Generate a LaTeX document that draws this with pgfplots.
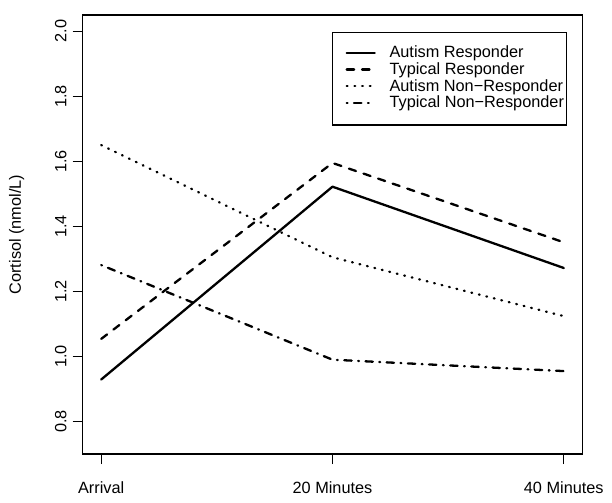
\documentclass[border=0pt]{standalone}
\usepackage{fontspec}
\setmainfont{Liberation Sans}
\usepackage{pgfplots}
\pgfplotsset{compat=1.18}
\begin{document}
\begin{tikzpicture}[font=\fontsize{16.3bp}{19bp}\selectfont]
\begin{axis}[
  at={(0,0)}, anchor=south west,
  scale only axis, width=499.6bp, height=439bp,
  xmin=0.92, xmax=3.08, ymin=0.70, ymax=2.05,
  xtick={1,2,3}, xticklabels={Arrival,20 Minutes,40 Minutes},
  ytick={0.8,1.0,1.2,1.4,1.6,1.8,2.0},
  yticklabels={0.8,1.0,1.2,1.4,1.6,1.8,2.0},
  xtick pos=bottom, ytick pos=left,
  tick align=outside, major tick length=10bp,
  axis line style={line width=1.1bp, black},
  tick style={line width=1.1bp, black},
  xticklabel style={anchor=base, inner sep=0pt},
  xticklabel shift=29bp,
  yticklabel style={rotate=90, anchor=south, inner sep=0pt},
  yticklabel shift=6bp,
  ylabel={Cortisol (nmol/L)},
  ylabel style={at={([xshift=-61.7bp]axis description cs:0,0.5)}, rotate=0, anchor=base, inner sep=0pt},
  legend style={at={(axis description cs:0.4996,0.962)}, anchor=north west,
    draw=black, line width=1.1bp, inner xsep=12.7bp, inner ysep=13bp,
    column sep=13.7bp, row sep=0pt,
    nodes={inner sep=0pt, anchor=base west, text height=12.4bp, text depth=4.3bp}},
  legend image code/.code={\draw[#1] (0bp,4.85bp) -- (28bp,4.85bp);},
  every axis plot/.append style={line width=2.3bp, black, line cap=round, line join=round},
]
\addplot[solid] coordinates {(1,0.929) (2,1.522) (3,1.272)};
\addlegendentry{\makebox[163.9bp][l]{Autism Responder}}
\addplot[dash pattern=on 7.4bp off 8bp] coordinates {(1,1.054) (2,1.595) (3,1.351)};
\addlegendentry{\makebox[163.9bp][l]{Typical Responder}}
\addplot[dash pattern=on 0.8bp off 6.9bp] coordinates {(1,1.650) (2,1.305) (3,1.124)};
\addlegendentry{\makebox[163.9bp][l]{Autism Non−Responder}}
\addplot[dash pattern=on 0.8bp off 6.5bp on 7.4bp off 6.5bp] coordinates {(1,1.281) (2,0.990) (3,0.955)};
\addlegendentry{\makebox[163.9bp][l]{Typical Non−Responder}}
\end{axis}
\pgfresetboundingbox
\useasboundingbox (-82.7bp,-49bp) rectangle (529.3bp,454bp);
\end{tikzpicture}
\end{document}
